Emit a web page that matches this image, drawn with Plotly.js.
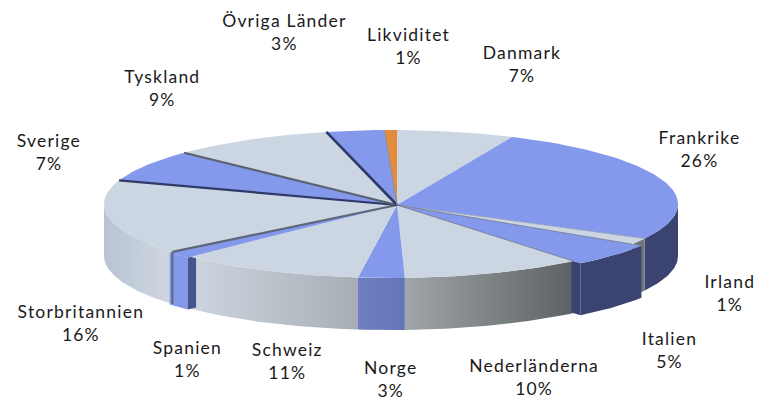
<!DOCTYPE html>
<html><head><meta charset="utf-8">
<script src="https://cdn.plot.ly/plotly-3.0.1.min.js"></script>
<style>html,body{margin:0;padding:0;background:#fff}#c{width:760px;height:400px}
.annotation text{letter-spacing:1.2px}</style>
</head><body><div id="c"></div>
<script>
// Data, clockwise from the top of the pie
const categories = ['Danmark','Frankrike','Irland','Italien','Nederländerna','Norge','Schweiz','Spanien','Storbritannien','Sverige','Tyskland','Övriga Länder','Likviditet'];
const values     = [6.6,25.8,1.4,4.9,10.2,2.6,10.5,1.45,16.4,7,9.2,3.25,0.7];
const percentLabels = ['7%','26%','1%','5%','10%','3%','11%','1%','16%','7%','9%','3%','1%'];

// Styles
const topColors  = ['#cbd6e2','#8498ec','#cbd6e2','#8498ec','#cbd6e2','#8498ec','#cbd6e2','#8498ec','#cbd6e2','#8498ec','#cbd6e2','#8498ec','#e58b3c'];
const wallFrom   = ['#cbd6e2','#3b4470','#70767a','#3b4470','#a0a5a9','#6f7fc0','#cfd5de','#8498ec','#b9c3d2','#8498ec','#cbd6e2','#8498ec','#e58b3c'];
const wallTo     = ['#cbd6e2','#3b4470','#70767a','#3b4470','#5c6163','#6574b4','#a7aeb6','#8498ec','#cfd7e2','#8498ec','#cbd6e2','#8498ec','#e58b3c'];
const pull       = [1,1,1,1.04,1,1,1,1.012,1,1,1,1,1];
const edgeColor  = [null,null,'#8f9bb8','#6d7686','#6d7686',null,null,null,'#5d6778','#2f3a68','#5a6272','#2f3a68','#8a90a0'];
const edgeWidth  = [0,0,0.8,0.8,0.8,0,0,0,2.2,2.2,2.2,2.6,1.2];

// Projection of the tilted disc
const cx = 391, cy = 204, rx = 287, ry = 74, depth = 52, hubX = 397, hubY = 205, startDeg = 1.2;
const rim = (deg, k) => {
  const a = deg * Math.PI / 180;
  const x = cx + rx * Math.sin(a), y = cy - ry * Math.cos(a);
  return [hubX + (x - hubX) * k, hubY + (y - hubY) * k];
};
const arc = (a0, a1, k) => {
  const pts = [], n = Math.max(2, Math.ceil(Math.abs(a1 - a0)));
  for (let i = 0; i <= n; i++) pts.push(rim(a0 + (a1 - a0) * i / n, k));
  return pts;
};
const total = values.reduce((s, v) => s + v, 0);
let run = 0;
const spans = values.map(v => { const a0 = startDeg + run / total * 360; run += v; return [a0, startDeg + run / total * 360]; });

const poly = (pts, color, extra) => Object.assign({
  type:'scatter', mode:'lines', x:pts.map(p=>p[0]), y:pts.map(p=>p[1]), fill:'toself', fillcolor:color,
  line:{width:0, color:color}, hoverinfo:'skip', showlegend:false
}, extra || {});

const traces = [];
function wall(i) {
  const a0 = Math.max(spans[i][0], 90), a1 = Math.min(spans[i][1], 270);
  if (a1 <= a0) return;
  const top = arc(a0, a1, pull[i]);
  const low = top.slice().reverse().map(p => [p[0], p[1] + depth]);
  traces.push(poly(top.concat(low), wallFrom[i], {
    name: categories[i] + ' sida',
    fillgradient:{type:'horizontal', colorscale:[[0, wallFrom[i]], [1, wallTo[i]]]}
  }));
}
function cutFace(i, deg, k, color) {
  const p = rim(deg, pull[i]);
  const q = [p[0] + (hubX - p[0]) * k, p[1] + (hubY - p[1]) * k];
  traces.push(poly([p, q, [q[0], q[1] + depth], [p[0], p[1] + depth]], color));
}
[1,2,4,5,8,6,3].forEach(wall);
cutFace(3, spans[3][1], 0.05, '#3b4470');
wall(7);
cutFace(7, spans[7][0], 0.04, '#47558f');

// Top faces
[0,1,2,4,5,6,8,9,10,11,12,3,7].forEach(i => {
  const pts = [[hubX, hubY]].concat(arc(spans[i][0], spans[i][1], pull[i]));
  traces.push(poly(pts, topColors[i], {name:categories[i]}));
});
// Dark edges where slices meet
edgeColor.forEach((c, i) => {
  if (!c) return;
  const p = rim(spans[i][0], 1);
  traces.push({type:'scatter', mode:'lines', x:[hubX,p[0]], y:[hubY,p[1]], line:{color:c,width:edgeWidth[i]}, hoverinfo:'skip', showlegend:false});
});
// Edge running down the wall beside Spanien
const sp = rim(spans[8][0], 1);
traces.push({type:'scatter', mode:'lines', x:[sp[0],sp[0]], y:[sp[1],sp[1]+depth], line:{color:'#5d6778',width:2}, hoverinfo:'skip', showlegend:false});

// Label placement
const labelX = [522,699,730,669,534,390,287,187,81,49,162,284,409];
const labelY = [64,149,293,350,377,379,361,359,323,152,88,32,46];
const annotations = categories.map((c, i) => ({
  x:labelX[i], y:labelY[i], xref:'x', yref:'y', text:c + '<br>' + percentLabels[i], showarrow:false,
  align:'center', xanchor:'center', yanchor:'middle',
  font:{family:'Lato, sans-serif', size:17.5, color:'#1a1a1a'}
}));

Plotly.newPlot('c', traces, {
  width:760, height:400, margin:{l:0,r:0,t:0,b:0}, paper_bgcolor:'#fff', plot_bgcolor:'#fff', showlegend:false,
  xaxis:{range:[0,760], visible:false, fixedrange:true},
  yaxis:{range:[400,0], visible:false, fixedrange:true},
  annotations
}, {displayModeBar:false, staticPlot:true});
</script></body></html>
